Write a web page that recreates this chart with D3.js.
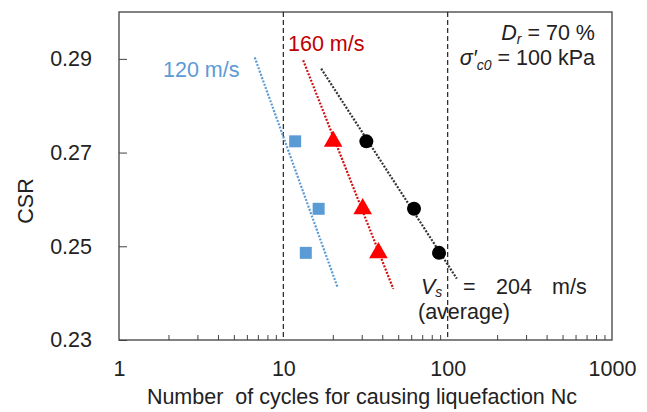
<!DOCTYPE html>
<html>
<head>
<meta charset="utf-8">
<script src="https://cdn.jsdelivr.net/npm/d3@7"></script>
<style>
  body { margin: 0; background: #fff; }
  svg text { font-family: "Liberation Sans", Arial, sans-serif; }
</style>
</head>
<body>
<div id="chart"></div>
<script>
// --- data ---
const vs120Nc  = [11.8, 16.4, 13.7];
const vs120Csr = [0.2724, 0.2580, 0.2486];
const vs160Nc  = [20.1, 30.4, 37.9];
const vs160Csr = [0.2724, 0.2580, 0.2486];
const vs204Nc  = [32.0, 62.4, 88.6];
const vs204Csr = [0.2724, 0.2580, 0.2486];

// dotted trend lines: [start, end] as [Nc, CSR]
const trend120 = [[6.7, 0.2903], [21.3, 0.2414]];
const trend160 = [[13.2, 0.2897], [46.7, 0.2409]];
const trend204 = [[17.0, 0.2879], [113.6, 0.2431]];

const xTicks = [1, 10, 100, 1000];
const yTicks = [0.23, 0.25, 0.27, 0.29];
const refLines = [10, 100];

// --- sizing ---
const W = 647, H = 412;
const margin = { top: 12, right: 35, bottom: 72, left: 119 };
const width = W - margin.left - margin.right;
const height = H - margin.top - margin.bottom;
const fs = 21.5;   // main font size
const fsSub = 14;  // subscripts

const svg = d3.select('#chart').append('svg')
  .attr('width', W).attr('height', H);

const plot = svg.append('g')
  .attr('transform', `translate(${margin.left},${margin.top})`);

const x = d3.scaleLog().domain([1, 1000]).range([0, width]);
const y = d3.scaleLinear().domain([0.23, 0.30]).range([height, 0]);

// frame
plot.append('rect')
  .attr('width', width).attr('height', height)
  .attr('fill', 'none').attr('stroke', '#404040').attr('stroke-width', 1.3);

// minor x ticks (inward)
const minor = [];
[1, 10, 100].forEach(d => { for (let k = 2; k <= 9; k++) minor.push(d * k); });
plot.append('g')
  .attr('transform', `translate(0,${height})`)
  .call(d3.axisBottom(x).tickValues(minor).tickSize(-5).tickFormat(''))
  .call(g => g.select('.domain').remove())
  .call(g => g.selectAll('line').attr('stroke', '#404040'));

// x labels
plot.append('g')
  .attr('transform', `translate(0,${height})`)
  .call(d3.axisBottom(x).tickValues(xTicks).tickSize(0).tickPadding(21).tickFormat(d3.format('d')))
  .call(g => g.select('.domain').remove())
  .call(g => g.selectAll('text').attr('font-size', fs).attr('fill', '#222')
    .attr('font-family', '"Liberation Sans", Arial, sans-serif'));

// y axis
plot.append('g')
  .call(d3.axisLeft(y).tickValues(yTicks).tickSize(-8).tickPadding(27).tickFormat(d3.format('.2f')))
  .call(g => g.select('.domain').remove())
  .call(g => g.selectAll('line').attr('stroke', '#404040'))
  .call(g => g.selectAll('text').attr('font-size', fs).attr('fill', '#222')
    .attr('font-family', '"Liberation Sans", Arial, sans-serif'));

// vertical dashed reference lines
plot.selectAll('.ref').data(refLines).enter().append('line')
  .attr('x1', d => x(d)).attr('x2', d => x(d))
  .attr('y1', 0).attr('y2', height)
  .attr('stroke', '#222').attr('stroke-width', 1.2)
  .attr('stroke-dasharray', '5,3');

// trend lines
const line = d3.line().x(d => x(d[0])).y(d => y(d[1]));
[[trend120, '#5b9bd5'], [trend160, '#d01010'], [trend204, '#333']].forEach(([t, c]) => {
  plot.append('path').datum(t)
    .attr('d', line)
    .attr('fill', 'none').attr('stroke', c)
    .attr('stroke-width', 2.2).attr('stroke-dasharray', '2,1.5');
});

// markers
const sq = d3.symbol().type(d3.symbolSquare).size(144);
plot.selectAll('.sq').data(d3.zip(vs120Nc, vs120Csr)).enter().append('path')
  .attr('d', sq)
  .attr('transform', d => `translate(${x(d[0])},${y(d[1])})`)
  .attr('fill', '#5b9bd5');

const tri = d3.symbol().type(d3.symbolTriangle).size(150);
plot.selectAll('.tri').data(d3.zip(vs160Nc, vs160Csr)).enter().append('path')
  .attr('d', tri)
  .attr('transform', d => `translate(${x(d[0])},${y(d[1])})`)
  .attr('fill', '#ff0000');

plot.selectAll('.circ').data(d3.zip(vs204Nc, vs204Csr)).enter().append('circle')
  .attr('cx', d => x(d[0])).attr('cy', d => y(d[1]))
  .attr('r', 7).attr('fill', '#000');

// labels
svg.append('text')
  .attr('x', 163).attr('y', 77)
  .attr('font-size', fs).attr('fill', '#5b9bd5')
  .text('120 m/s');
svg.append('text')
  .attr('x', 288).attr('y', 51)
  .attr('font-size', fs).attr('fill', '#c00000')
  .text('160 m/s');

const t1 = svg.append('text')
  .attr('x', 595).attr('y', 40).attr('text-anchor', 'end')
  .attr('font-size', fs).attr('fill', '#222');
t1.append('tspan').attr('font-style', 'italic').text('D');
t1.append('tspan').attr('font-style', 'italic').attr('font-size', fsSub).attr('dy', 4).text('r');
t1.append('tspan').attr('dy', -4).text(' = 70 %');

const t2 = svg.append('text')
  .attr('x', 595).attr('y', 65).attr('text-anchor', 'end')
  .attr('font-size', fs).attr('fill', '#222');
t2.append('tspan').attr('font-style', 'italic').text('σ\u2032');
t2.append('tspan').attr('font-style', 'italic').attr('font-size', fsSub).attr('dy', 5).text('c0');
t2.append('tspan').attr('dy', -5).text(' = 100 kPa');

const t3 = svg.append('text')
  .attr('x', 421).attr('y', 294)
  .attr('font-size', fs).attr('fill', '#222');
t3.append('tspan').attr('font-style', 'italic').text('V');
t3.append('tspan').attr('font-style', 'italic').attr('font-size', fsSub).attr('dy', 2.5).text('s');
svg.append('text').attr('x', 463).attr('y', 294).attr('font-size', fs).attr('fill', '#222').text('=');
svg.append('text').attr('x', 496).attr('y', 294).attr('font-size', fs).attr('fill', '#222').text('204');
svg.append('text').attr('x', 552).attr('y', 294).attr('font-size', fs).attr('fill', '#222').text('m/s');

svg.append('text')
  .attr('x', 418).attr('y', 319)
  .attr('font-size', fs).attr('fill', '#222')
  .text('(average)');

// axis titles
svg.append('text')
  .attr('transform', 'translate(33,201) rotate(-90)')
  .attr('text-anchor', 'middle')
  .attr('font-size', fs).attr('fill', '#222')
  .text('CSR');

svg.append('text')
  .attr('x', 362).attr('y', 404).attr('text-anchor', 'middle')
  .attr('font-size', fs).attr('fill', '#222')
  .text('Number\u00a0 of cycles for causing liquefaction Nc');
</script>
</body>
</html>
